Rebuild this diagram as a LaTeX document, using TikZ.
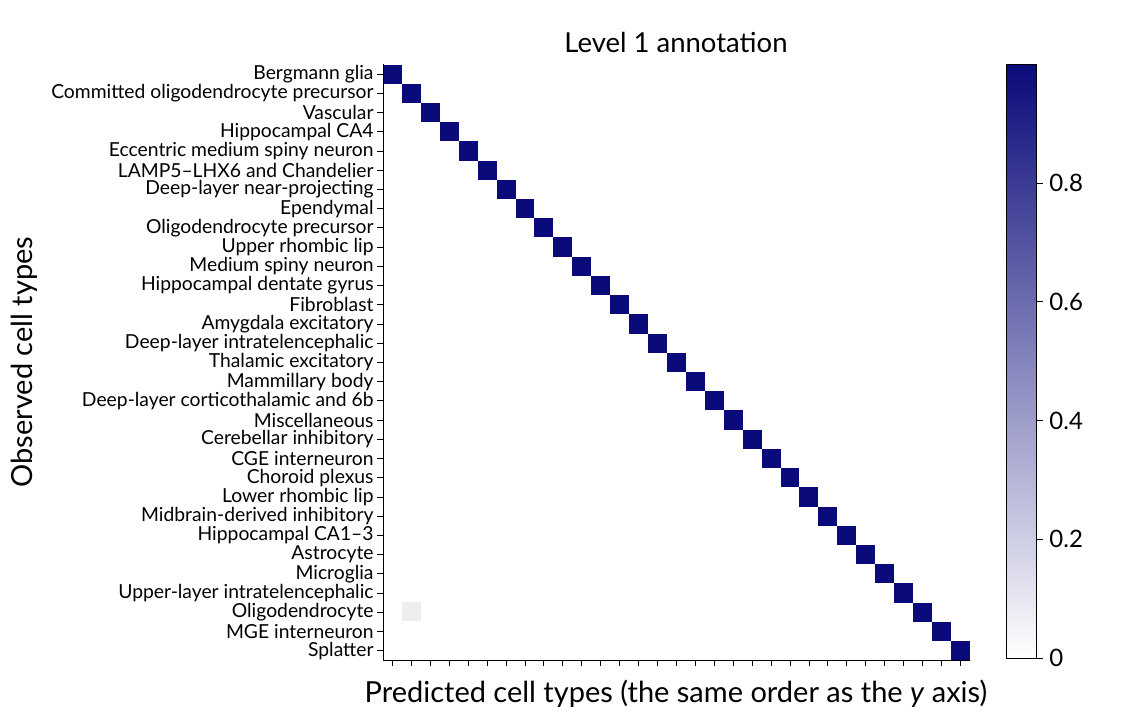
\documentclass[tikz,border=0pt]{standalone}
\usepackage{fontspec}
\setmainfont{Lato}
\definecolor{navy}{HTML}{0A0A7A}
\definecolor{faint}{HTML}{EEEEEE}
\begin{document}
\begin{tikzpicture}[x=1pt,y=-1pt,line width=1pt]
\useasboundingbox (0,0) rectangle (1126,713);
\tikzset{
  cell/.style={fill=navy},
  lbl/.style={anchor=east,font=\fontsize{19.3}{21}\selectfont,inner sep=0pt},
  tick/.style={line width=0.9pt}
}
%
\node[font=\fontsize{27.5}{30}\selectfont] (title) at (676,42) {Level 1 annotation};
\node[font=\fontsize{29}{32}\selectfont,rotate=90] (ylab) at (24,362) {Observed cell types};
\node[font=\fontsize{29}{32}\selectfont] (xlab) at (676,694) {Predicted cell types (the same order as the \textit{y} axis)};
%
%:cells
\fill[faint] (401.5,602) rectangle (420.5,621);
\foreach \name [count=\i from 0] in {Bergmann glia,Committed oligodendrocyte precursor,Vascular,Hippocampal CA4,Eccentric medium spiny neuron,LAMP5–LHX6 and Chandelier,Deep-layer near-projecting,Ependymal,Oligodendrocyte precursor,Upper rhombic lip,Medium spiny neuron,Hippocampal dentate gyrus,Fibroblast,Amygdala excitatory,Deep-layer intratelencephalic,Thalamic excitatory,Mammillary body,Deep-layer corticothalamic and 6b,Miscellaneous,Cerebellar inhibitory,CGE interneuron,Choroid plexus,Lower rhombic lip,Midbrain-derived inhibitory,Hippocampal CA1–3,Astrocyte,Microglia,Upper-layer intratelencephalic,Oligodendrocyte,MGE interneuron,Splatter}
{
  \fill[cell] (383+18.93*\i,64.5+19.22*\i) rectangle ++(18.93,19.22);
  \draw[tick] (383,74.1+19.22*\i) -- ++(-6,0) node[lbl,xshift=-3pt] {\name};
  \draw[tick] (392.5+18.93*\i,660) -- ++(0,6);
}
\draw (383,64) -- (383,660) -- (970,660);
%
%:colour bar
\shade[bottom color=white,top color=navy,middle color=navy!50] (1006,658) rectangle (1036,64.5);
\draw (1006,64.5) rectangle (1036,658);
\foreach \v/\t in {0/0,0.2/0.2,0.4/0.4,0.6/0.6,0.8/0.8}
  \draw[tick] (1036,658-593.5*\v) -- ++(7,0) node[anchor=west,inner sep=0pt,xshift=6pt,font=\fontsize{24}{26}\selectfont] {\t};
\end{tikzpicture}
\end{document}
